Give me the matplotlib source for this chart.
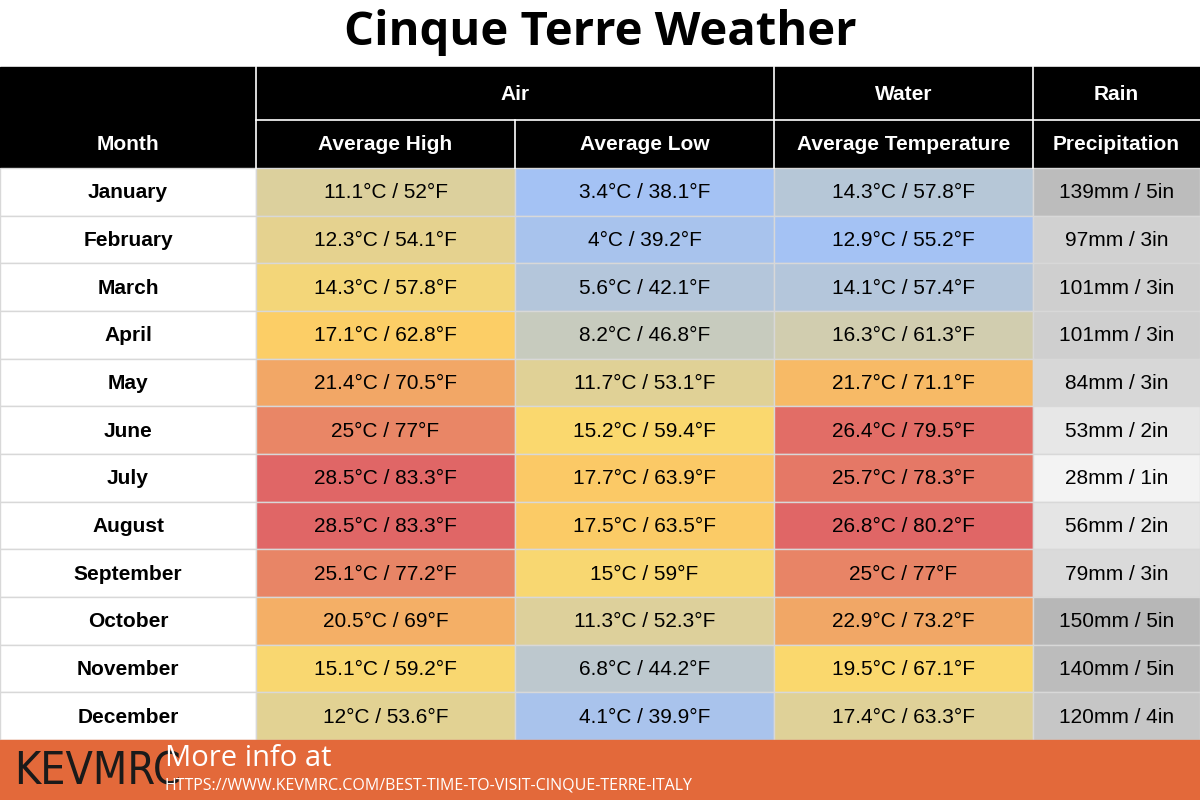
import matplotlib
matplotlib.use("Agg")
import matplotlib.pyplot as plt
from matplotlib.patches import Rectangle
import numpy as np

months = ["January","February","March","April","May","June","July","August",
          "September","October","November","December"]
high_c = [11.1,12.3,14.3,17.1,21.4,25,28.5,28.5,25.1,20.5,15.1,12]
high_f = ["52","54.1","57.8","62.8","70.5","77","83.3","83.3","77.2","69","59.2","53.6"]
low_c = [3.4,4,5.6,8.2,11.7,15.2,17.7,17.5,15,11.3,6.8,4.1]
low_f = ["38.1","39.2","42.1","46.8","53.1","59.4","63.9","63.5","59","52.3","44.2","39.9"]
water_c = [14.3,12.9,14.1,16.3,21.7,26.4,25.7,26.8,25,22.9,19.5,17.4]
water_f = ["57.8","55.2","57.4","61.3","71.1","79.5","78.3","80.2","77","73.2","67.1","63.3"]
rain_mm = [139,97,101,101,84,53,28,56,79,150,140,120]
rain_in = [5,3,3,3,3,2,1,2,3,5,5,4]

BLUE = np.array([164,194,244])/255
YEL = np.array([255,217,102])/255
RED = np.array([224,102,102])/255

def temp_color(v, lo, hi):
    mid = (lo+hi)/2
    if v <= mid:
        t = (v-lo)/(mid-lo); return BLUE*(1-t)+YEL*t
    t = (v-mid)/(hi-mid); return YEL*(1-t)+RED*t

def rain_color(v, lo, hi):
    t = (v-lo)/(hi-lo)
    a = np.array([243,243,243])/255; b = np.array([183,183,183])/255
    return a*(1-t)+b*t

def fmt(v):
    return ("%g" % v)

fig = plt.figure(figsize=(12,8), dpi=100)
ax = fig.add_axes([0,0,1,1])
ax.set_xlim(0,1200); ax.set_ylim(800,0); ax.axis("off")
FONT = "Liberation Sans"

ax.text(600, 33, "Cinque Terre Weather", ha="center", va="center", fontsize=34,
        fontweight="bold", family="Open Sans")

cols = [0,256,515,774,1033,1200]
top = 67; h1 = 53; h2 = 48; y0 = top+h1+h2; rh = (740-y0)/12
ax.add_patch(Rectangle((0,top),1200,h1+h2,color="black"))
# header separators
for x in [256,774,1033]:
    ax.plot([x,x],[top,top+h1+h2],color="white",lw=1.2)
for x in [515]:
    ax.plot([x,x],[top+h1,top+h1+h2],color="white",lw=1.2)
ax.plot([256,1200],[top+h1,top+h1],color="white",lw=1.2)
for (a,b),t in zip([(256,774),(774,1033),(1033,1200)],["Air","Water","Rain"]):
    ax.text((a+b)/2, top+h1/2+1, t, ha="center", va="center", color="white",
            fontsize=15, fontweight="bold", family=FONT)
for i,t in enumerate(["Month","Average High","Average Low","Average Temperature","Precipitation"]):
    ax.text((cols[i]+cols[i+1])/2, top+h1+h2/2, t, ha="center", va="center",
            color="white", fontsize=15, fontweight="bold", family=FONT)

airlo = min(low_c); airhi = max(high_c)
for r,m in enumerate(months):
    y = y0 + r*rh
    cells = [
        ("white", m, True),
        (temp_color(high_c[r],airlo,airhi), f"{fmt(high_c[r])}°C / {high_f[r]}°F", False),
        (temp_color(low_c[r],airlo,airhi), f"{fmt(low_c[r])}°C / {low_f[r]}°F", False),
        (temp_color(water_c[r],min(water_c),max(water_c)), f"{fmt(water_c[r])}°C / {water_f[r]}°F", False),
        (rain_color(rain_mm[r],min(rain_mm),max(rain_mm)), f"{rain_mm[r]}mm / {rain_in[r]}in", False),
    ]
    for i,(c,t,b) in enumerate(cells):
        ax.add_patch(Rectangle((cols[i],y),cols[i+1]-cols[i],rh,facecolor=c,
                               edgecolor="#d8d8d8",lw=1))
        ax.text((cols[i]+cols[i+1])/2, y+rh/2+1, t, ha="center", va="center",
                fontsize=15, fontweight="bold" if b else "normal", family=FONT, color="black")

ax.add_patch(Rectangle((0,740),1200,60,color="#E3693A"))
ax.text(14, 772, "KEVMRC", ha="left", va="center", fontsize=32, color="#1a1a1a",
        family="DejaVu Sans", fontstretch="condensed")
ax.text(165, 758, "More info at", ha="left", va="center", fontsize=21, color="white", family="Open Sans")
ax.text(165, 786, "HTTPS://WWW.KEVMRC.COM/BEST-TIME-TO-VISIT-CINQUE-TERRE-ITALY",
        ha="left", va="center", fontsize=11.5, color="white", family="Open Sans")

fig.savefig("out.png", dpi=100)
